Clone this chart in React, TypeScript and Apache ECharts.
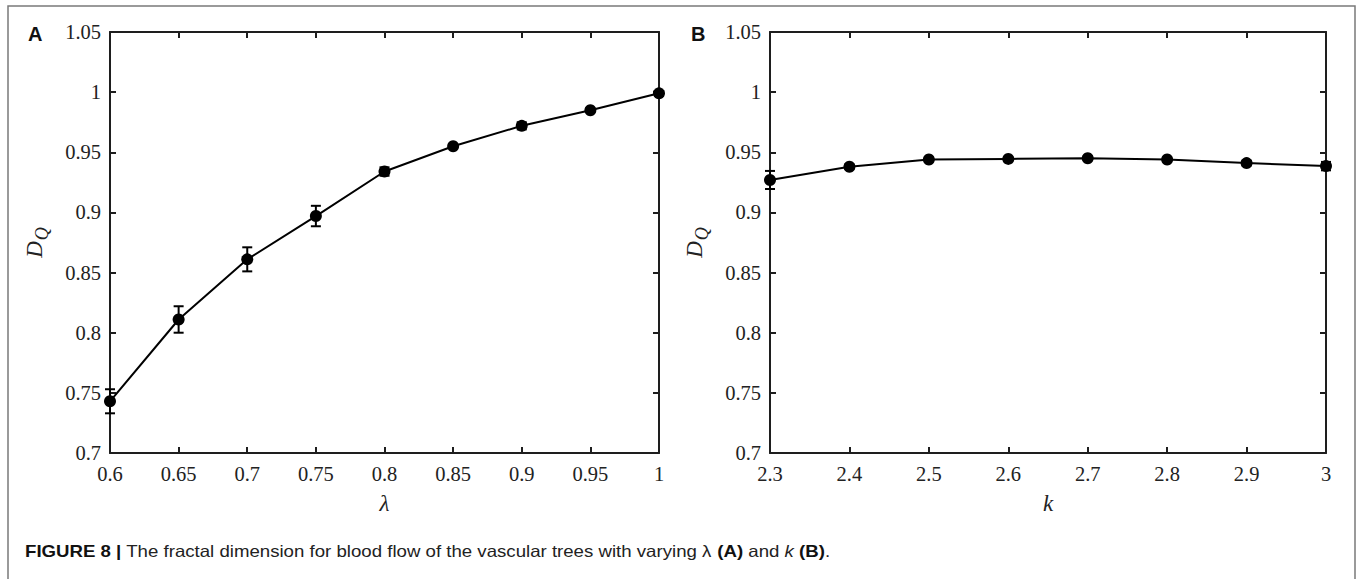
import React, { useEffect, useRef } from "react";
import * as echarts from "echarts";

const lambdaX = [0.6, 0.65, 0.7, 0.75, 0.8, 0.85, 0.9, 0.95, 1.0];
const dqA = [0.743, 0.811, 0.861, 0.897, 0.934, 0.955, 0.972, 0.985, 0.999];
const errA = [0.01, 0.011, 0.01, 0.0085, 0.0035, 0.0012, 0.003, 0.0015, 0.001];

const kX = [2.3, 2.4, 2.5, 2.6, 2.7, 2.8, 2.9, 3.0];
const dqB = [0.927, 0.938, 0.944, 0.9445, 0.945, 0.944, 0.941, 0.9385];
const errB = [0.0075, 0.002, 0.0015, 0.0015, 0.0015, 0.0015, 0.002, 0.0035];

const yTicksMin = 0.7;
const yTicksMax = 1.05;

const SERIF = "'Liberation Serif', 'Times New Roman', serif";
const SANS = "'Liberation Sans', Arial, sans-serif";
const AX = "#1e1e1e";

function App() {
  const ref = useRef<HTMLDivElement>(null);
  useEffect(() => {
    if (!ref.current) return;
    const chart = echarts.init(ref.current, undefined, { renderer: "svg" });

    const grids = [
      { left: 110, top: 32, width: 549, height: 421 },
      { left: 770, top: 32, width: 556, height: 421 },
    ];

    const xDefs = [
      { min: 0.6, max: 1, interval: 0.05, name: "λ" },
      { min: 2.3, max: 3, interval: 0.1, name: "k" },
    ];

    const xAxis: any[] = [];
    const yAxis: any[] = [];
    xDefs.forEach((d, gi) => {
      xAxis.push({
        type: "value",
        gridIndex: gi,
        position: "bottom",
        min: d.min,
        max: d.max,
        interval: d.interval,
        splitLine: { show: false },
        axisLine: { show: true, lineStyle: { color: AX, width: 2 } },
        axisTick: { show: true, inside: true, length: 6, lineStyle: { color: AX, width: 2 } },
        axisLabel: { color: "#222", fontFamily: SERIF, fontSize: 20.5, margin: 10 },
        name: d.name,
        nameLocation: "middle",
        nameGap: 39,
        nameTextStyle: { fontFamily: SERIF, fontStyle: "italic", fontSize: 23, color: "#222" },
      });
      xAxis.push({
        type: "value",
        gridIndex: gi,
        position: "top",
        min: d.min,
        max: d.max,
        interval: d.interval,
        splitLine: { show: false },
        axisLine: { show: true, lineStyle: { color: AX, width: 2 } },
        axisTick: { show: true, inside: true, length: 6, lineStyle: { color: AX, width: 2 } },
        axisLabel: { show: false },
      });
      yAxis.push({
        type: "value",
        gridIndex: gi,
        position: "left",
        min: yTicksMin,
        max: yTicksMax,
        interval: 0.05,
        splitLine: { show: false },
        axisLine: { show: true, lineStyle: { color: AX, width: 2 } },
        axisTick: { show: true, inside: true, length: 6, lineStyle: { color: AX, width: 2 } },
        axisLabel: { color: "#222", fontFamily: SERIF, fontSize: 20.5, margin: 9 },
        name: "{d|D}{q|Q}",
        nameLocation: "middle",
        nameGap: 59,
        nameRotate: 90,
        nameTextStyle: {
          rich: {
            d: { fontFamily: SERIF, fontStyle: "italic", fontSize: 23, color: "#222" },
            q: { fontFamily: SERIF, fontStyle: "italic", fontSize: 18, color: "#222", padding: [16, 0, 0, 1] },
          },
        },
      });
      yAxis.push({
        type: "value",
        gridIndex: gi,
        position: "right",
        min: yTicksMin,
        max: yTicksMax,
        interval: 0.05,
        splitLine: { show: false },
        axisLine: { show: true, lineStyle: { color: AX, width: 2 } },
        axisTick: { show: true, inside: true, length: 6, lineStyle: { color: AX, width: 2 } },
        axisLabel: { show: false },
      });
    });

    const errRender = (params: any, api: any) => {
      const x = api.value(0);
      const lo = api.value(1);
      const hi = api.value(2);
      const pLo = api.coord([x, lo]);
      const pHi = api.coord([x, hi]);
      const w = 5;
      const st = { stroke: "#000", lineWidth: 2 };
      return {
        type: "group",
        children: [
          { type: "line", shape: { x1: pLo[0], y1: pLo[1], x2: pHi[0], y2: pHi[1] }, style: st },
          { type: "line", shape: { x1: pLo[0] - w, y1: pLo[1], x2: pLo[0] + w, y2: pLo[1] }, style: st },
          { type: "line", shape: { x1: pHi[0] - w, y1: pHi[1], x2: pHi[0] + w, y2: pHi[1] }, style: st },
        ],
      };
    };

    const mk = (xs: number[], ys: number[], es: number[], gi: number) => [
      {
        type: "line",
        xAxisIndex: gi * 2,
        yAxisIndex: gi * 2,
        data: xs.map((x, i) => [x, ys[i]]),
        symbol: "circle",
        symbolSize: 12,
        clip: false,
        itemStyle: { color: "#000" },
        lineStyle: { color: "#000", width: 2 },
        z: 3,
      },
      {
        type: "custom",
        xAxisIndex: gi * 2,
        yAxisIndex: gi * 2,
        data: xs.map((x, i) => [x, ys[i] - es[i], ys[i] + es[i]]),
        encode: { x: 0, y: [1, 2] },
        renderItem: errRender,
        clip: false,
        z: 4,
      },
    ];

    chart.setOption({
      animation: false,
      backgroundColor: "#fff",
      grid: grids,
      xAxis,
      yAxis,
      series: [...mk(lambdaX, dqA, errA, 0), ...mk(kX, dqB, errB, 1)],
      graphic: [
        {
          type: "rect",
          shape: { x: 8, y: 6, width: 1347, height: 620 },
          style: { fill: "none", stroke: "#7a7a7a", lineWidth: 1.5 },
          silent: true,
        },
        {
          type: "text",
          x: 28,
          y: 24,
          style: { text: "A", fontFamily: SANS, fontWeight: "bold", fontSize: 20, fill: "#111" },
        },
        {
          type: "text",
          x: 691,
          y: 24,
          style: { text: "B", fontFamily: SANS, fontWeight: "bold", fontSize: 20, fill: "#111" },
        },
        {
          type: "text",
          x: 25,
          y: 543,
          scaleX: 1.13,
          style: {
            text:
              "{b|FIGURE 8 |} The fractal dimension for blood flow of the vascular trees with varying λ {b|(A)} and {i|k} {b|(B)}.",
            fontFamily: SANS,
            fontSize: 16.5,
            fill: "#222",
            rich: {
              b: { fontFamily: SANS, fontWeight: "bold", fontSize: 16.5, fill: "#111" },
              i: { fontFamily: SANS, fontStyle: "italic", fontSize: 16.5, fill: "#222" },
            },
          },
        },
      ],
    });
    return () => chart.dispose();
  }, []);
  return (
    <div
      ref={ref}
      style={{ position: "absolute", left: 0, top: 0, width: 1362, height: 579 }}
    />
  );
}

export default App;
